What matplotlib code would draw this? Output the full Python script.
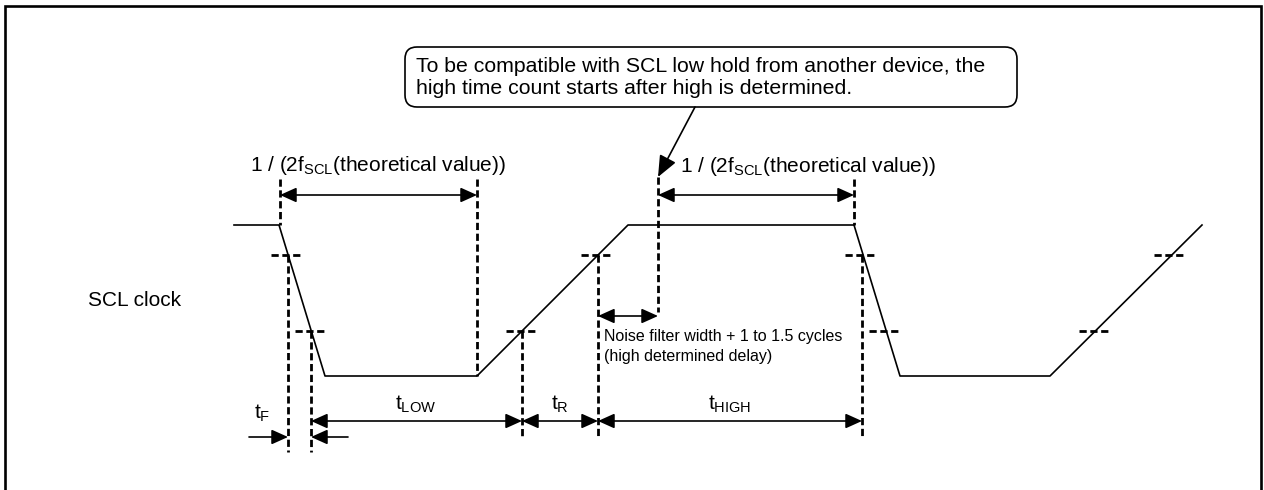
import numpy as np
import matplotlib
matplotlib.use("Agg")
import matplotlib.pyplot as plt
from matplotlib.patches import FancyBboxPatch, ArrowStyle

plt.rcParams['font.family'] = ['Liberation Sans', 'DejaVu Sans']
plt.rcParams['mathtext.fontset'] = 'custom'
plt.rcParams['mathtext.rm'] = 'Liberation Sans'
plt.rcParams['mathtext.it'] = 'Liberation Sans:italic'

# SCL waveform (pixel grid of the picture, y grows downwards)
wave_x = [234, 279, 325, 477, 628, 854, 900, 1050, 1202]
wave_y = [225, 225, 376, 376, 225, 225, 376, 376, 225]

# threshold levels and where the edges cross them
y_hi = 255
y_lo = 331
cross_hi = [288, 598, 862, 1171]
cross_lo = [311, 522, 885, 1095]

# vertical dashed guides: x, top, bottom
guides = [
    (280, 179, 225),
    (477, 179, 376),
    (288, 255, 452),
    (311, 331, 452),
    (522, 331, 436),
    (598, 255, 436),
    (658, 177, 312),
    (854, 179, 225),
    (862, 255, 436),
]

# double arrows: y, x start, x end
spans = [
    (195, 280, 477),
    (195, 658, 854),
    (316, 598, 658),
    (421, 311, 522),
    (421, 522, 598),
    (421, 598, 862),
]
# single arrows for tF: y, tail x, head x
tf_arrows = [(437, 249, 288), (437, 348, 311)]

period_label = r"1 / (2f$_{\mathrm{SCL}}$(theoretical value))"
callout_lines = ["To be compatible with SCL low hold from another device, the",
                 "high time count starts after high is determined."]
noise_lines = ["Noise filter width + 1 to 1.5 cycles", "(high determined delay)"]
t_labels = [r"t$_{\mathrm{F}}$", r"t$_{\mathrm{LOW}}$", r"t$_{\mathrm{R}}$", r"t$_{\mathrm{HIGH}}$"]
t_label_x = [262, 416, 560, 730]
t_label_y = [419, 410, 410, 410]

W, H = 1264, 490
fig = plt.figure(figsize=(W / 100, H / 100), dpi=100)
ax = fig.add_axes([0, 0, 1, 1])
ax.set_xlim(0, W)
ax.set_ylim(H, 0)
ax.axis("off")

# frame (open at the bottom)
ax.plot([4.5, 4.5, 1261, 1261], [H + 5, 6, 6, H + 5], color="black", lw=1.9,
        solid_joinstyle="miter", clip_on=False)

dash = (0, (2.6, 1.3))
for x, y0, y1 in guides:
    ax.plot([x, x], [y0, y1], color="black", lw=2.0, linestyle=dash)
for xc in cross_hi:
    ax.plot([xc - 17, xc + 15], [y_hi, y_hi], color="black", lw=2.0, linestyle=dash)
for xc in cross_lo:
    ax.plot([xc - 16, xc + 16], [y_lo, y_lo], color="black", lw=2.0, linestyle=dash)

ax.plot(wave_x, wave_y, color="black", lw=1.2)

both = ArrowStyle("<|-|>", head_length=1.0, head_width=0.45)
one = ArrowStyle("-|>", head_length=1.0, head_width=0.45)
for y, xa, xb in spans:
    ax.annotate("", xy=(xb, y), xytext=(xa, y),
                arrowprops=dict(arrowstyle=both, mutation_scale=10, color="black",
                                lw=1.2, shrinkA=0, shrinkB=0))
for y, xt, xh in tf_arrows:
    ax.annotate("", xy=(xh, y), xytext=(xt, y),
                arrowprops=dict(arrowstyle=one, mutation_scale=10, color="black",
                                lw=1.2, shrinkA=0, shrinkB=0))

# callout
box = FancyBboxPatch((405, 47), 612, 60, boxstyle="round,pad=0,rounding_size=12",
                     fc="white", ec="black", lw=1.2)
ax.add_patch(box)
ax.annotate("", xy=(658, 177), xytext=(695, 107),
            arrowprops=dict(arrowstyle=ArrowStyle("-|>", head_length=1.3, head_width=0.55),
                            mutation_scale=10, color="black", lw=1.2,
                            shrinkA=0, shrinkB=0))
ax.text(416, 72, callout_lines[0], fontsize=15.3, va="baseline")
ax.text(416, 94, callout_lines[1], fontsize=15.3, va="baseline")

ax.text(250, 171, period_label, fontsize=15, va="baseline")
ax.text(680, 172, period_label, fontsize=15, va="baseline")

ax.text(88, 300, "SCL clock", fontsize=15, va="center")

ax.text(604, 341, noise_lines[0], fontsize=11.5, va="baseline")
ax.text(604, 361, noise_lines[1], fontsize=11.5, va="baseline")

for lab, x, y in zip(t_labels, t_label_x, t_label_y):
    ax.text(x, y, lab, fontsize=15, ha="center", va="baseline")

fig.savefig("out.png", dpi=100)
